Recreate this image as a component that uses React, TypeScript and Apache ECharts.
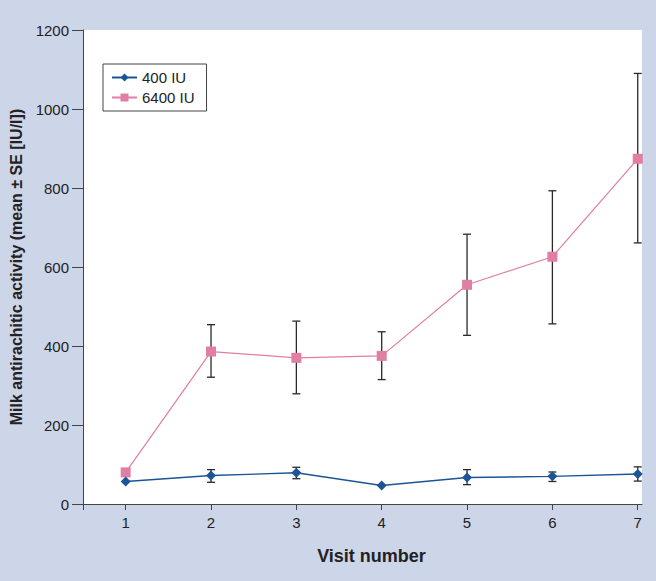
import React, { useEffect, useRef } from "react";
import * as echarts from "echarts";

const visits = [1, 2, 3, 4, 5, 6, 7];
const lowDoseMean = [57, 72, 79, 47, 67, 70, 76];
const lowDoseLower = [57, 55, 64, 47, 49, 57, 58];
const lowDoseUpper = [57, 87, 93, 47, 87, 81, 94];
const highDoseMean = [80, 386, 370, 375, 555, 626, 874];
const highDoseLower = [80, 321, 279, 315, 427, 456, 661];
const highDoseUpper = [80, 454, 463, 436, 683, 793, 1090];
const seriesNames = ["400 IU", "6400 IU"];

const FONT = "'Liberation Sans', Arial, Helvetica, sans-serif";
const BLUE = "#1b5598";
const PINK = "#e07ea4";

function errorData(lower: number[], upper: number[]) {
  return visits
    .map((v, i) => [v, lower[i], upper[i]])
    .filter((d) => d[2] > d[1]);
}

function renderError(params: any, api: any) {
  const x = api.value(0);
  const lo = api.coord([x, api.value(1)]);
  const hi = api.coord([x, api.value(2)]);
  const cap = 4;
  const style = { stroke: "#2a2a2a", lineWidth: 1.3 };
  return {
    type: "group",
    children: [
      { type: "line", shape: { x1: lo[0], y1: lo[1], x2: hi[0], y2: hi[1] }, style },
      { type: "line", shape: { x1: hi[0] - cap, y1: hi[1], x2: hi[0] + cap, y2: hi[1] }, style },
      { type: "line", shape: { x1: lo[0] - cap, y1: lo[1], x2: lo[0] + cap, y2: lo[1] }, style },
    ],
  };
}

export default function App() {
  const ref = useRef<HTMLDivElement>(null);
  useEffect(() => {
    if (!ref.current) return;
    const chart = echarts.init(ref.current, undefined, { renderer: "svg" });
    chart.setOption({
      animation: false,
      backgroundColor: "#cdd5e8",
      textStyle: { fontFamily: FONT },
      grid: {
        left: 81,
        top: 30,
        right: 14,
        bottom: 77,
        show: true,
        backgroundColor: "#ffffff",
        borderWidth: 0,
      },
      legend: {
        orient: "vertical",
        left: 103,
        top: 64,
        padding: [6, 12, 6, 8],
        itemGap: 5,
        itemWidth: 25,
        itemHeight: 10,
        borderColor: "#444",
        borderWidth: 1,
        backgroundColor: "#fff",
        borderRadius: 0,
        textStyle: { fontSize: 15, color: "#222", fontFamily: FONT },
        data: seriesNames,
      },
      xAxis: {
        type: "value",
        min: 0.5,
        max: 7.05,
        name: "Visit number",
        nameLocation: "middle",
        nameGap: 43,
        nameTextStyle: {
          fontSize: 18,
          fontWeight: "bold",
          color: "#222",
          fontFamily: FONT,
          padding: [0, 0, 0, 18],
        },
        axisLine: { show: true, lineStyle: { color: "#444", width: 1 } },
        axisTick: {
          show: true,
          length: 6,
          lineStyle: { color: "#444" },
          customValues: [0.5, ...visits],
        },
        axisLabel: {
          fontSize: 15,
          color: "#222",
          margin: 11,
          customValues: visits,
          fontFamily: FONT,
        },
        splitLine: { show: false },
      },
      yAxis: {
        type: "value",
        min: 0,
        max: 1200,
        interval: 200,
        name: "Milk antirachitic activity (mean \u00b1 SE [IU/l])",
        nameLocation: "middle",
        nameGap: 59,
        nameTextStyle: { fontSize: 16, fontWeight: "bold", color: "#222", fontFamily: FONT },
        axisLine: { show: true, lineStyle: { color: "#444", width: 1 } },
        axisTick: { show: true, length: 11, lineStyle: { color: "#444" } },
        axisLabel: {
          fontSize: 15,
          color: "#222",
          margin: 14,
          fontFamily: FONT,
          formatter: (v: number) => String(v),
        },
        splitLine: { show: false },
      },
      series: [
        {
          type: "custom",
          name: "err400",
          renderItem: renderError,
          data: errorData(lowDoseLower, lowDoseUpper),
          encode: { x: 0, y: [1, 2] },
          z: 1,
          silent: true,
        },
        {
          type: "custom",
          name: "err6400",
          renderItem: renderError,
          data: errorData(highDoseLower, highDoseUpper),
          encode: { x: 0, y: [1, 2] },
          z: 1,
          silent: true,
        },
        {
          type: "line",
          name: seriesNames[1],
          data: visits.map((v, i) => [v, highDoseMean[i]]),
          symbol: "rect",
          symbolSize: 10,
          lineStyle: { color: PINK, width: 1.2 },
          itemStyle: { color: PINK },
          z: 3,
        },
        {
          type: "line",
          name: seriesNames[0],
          data: visits.map((v, i) => [v, lowDoseMean[i]]),
          symbol: "diamond",
          symbolSize: 10,
          lineStyle: { color: BLUE, width: 1.4 },
          itemStyle: { color: BLUE },
          z: 4,
        },
      ],
    });
    return () => chart.dispose();
  }, []);
  return (
    <div
      ref={ref}
      style={{ position: "fixed", left: 0, top: 0, width: 656, height: 581 }}
    />
  );
}
